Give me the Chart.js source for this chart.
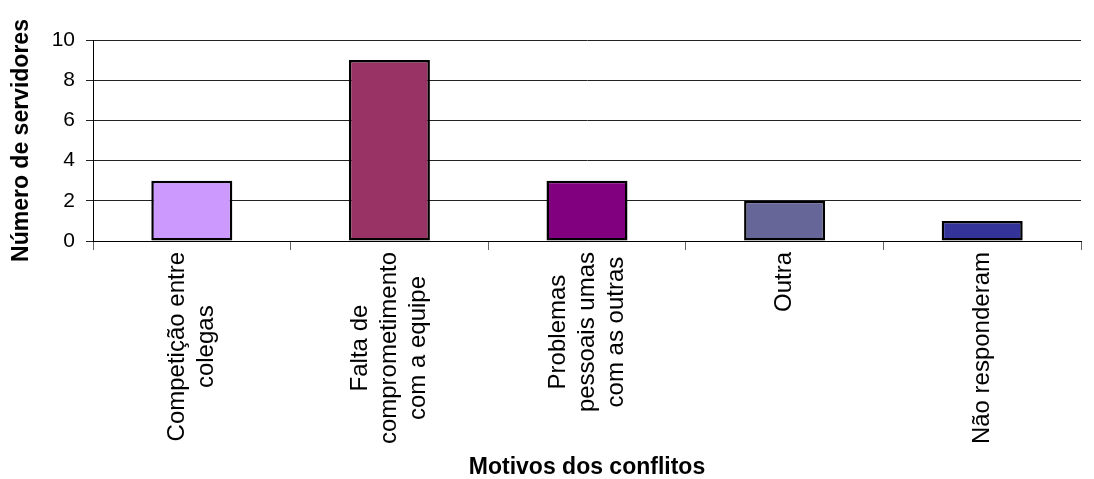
<!DOCTYPE html>
<html lang="pt">
<head>
<meta charset="utf-8">
<title>Motivos dos conflitos</title>
<script src="https://cdn.jsdelivr.net/npm/chart.js@4.4.1/dist/chart.umd.min.js"></script>
<style>
    html, body { margin: 0; padding: 0; background: #fff; }
    #graficoMotivos { display: block; }
</style>
</head>
<body>
<canvas id="graficoMotivos" width="1094" height="479"></canvas>
<script>
// Dados do gráfico
var categorias = [
    ['Competição entre', 'colegas'],
    ['Falta de', 'comprometimento', 'com a equipe'],
    ['Problemas', 'pessoais umas', 'com as outras'],
    ['Outra'],
    ['Não responderam']
];
var valores = [3, 9, 3, 2, 1];
var coresBarras = ['#CC99FF', '#993366', '#800080', '#666699', '#333399'];

var fonte = 'Liberation Sans, Arial, Helvetica, sans-serif';

// Plugin para desenhar os rótulos do eixo x rotacionados e centralizados
var rotulosCentralizados = {
    id: 'rotulosCentralizados',
    afterDraw: function (chart) {
        var ctx = chart.ctx;
        var eixoX = chart.scales.x;
        var alturaLinha = 29;
        ctx.save();
        ctx.font = '24px ' + fonte;
        ctx.fillStyle = '#000';
        ctx.textAlign = 'center';
        ctx.textBaseline = 'middle';
        for (var i = 0; i < categorias.length; i++) {
            var linhas = categorias[i];
            var maior = 0;
            linhas.forEach(function (l) {
                maior = Math.max(maior, ctx.measureText(l).width);
            });
            var cx = eixoX.getPixelForTick(i);
            var cy = eixoX.top + 11 + maior / 2;
            ctx.save();
            ctx.translate(cx, cy);
            ctx.rotate(-Math.PI / 2);
            for (var j = 0; j < linhas.length; j++) {
                ctx.fillText(linhas[j], 0, (j - (linhas.length - 1) / 2) * alturaLinha);
            }
            ctx.restore();
        }
        ctx.restore();
    }
};

function crearGraficoMotivos(canvasId) {
    var ctx = document.getElementById(canvasId);
    if (!ctx) {
        console.error('Canvas não encontrado: ' + canvasId);
        return;
    }
    new Chart(ctx, {
        type: 'bar',
        data: {
            labels: categorias,
            datasets: [{
                data: valores,
                backgroundColor: coresBarras,
                borderColor: '#000',
                borderWidth: 2.5,
                borderSkipped: false,
                barPercentage: 0.41,
                categoryPercentage: 1
            }]
        },
        options: {
            responsive: false,
            animation: false,
            layout: { padding: { top: 40, right: 13, bottom: 0, left: 0 } },
            plugins: {
                legend: { display: false },
                tooltip: { enabled: false }
            },
            scales: {
                x: {
                    offset: true,
                    grid: {
                        offset: true,
                        drawOnChartArea: false,
                        drawTicks: true,
                        tickLength: 9,
                        color: '#666'
                    },
                    border: { display: true, color: '#000', width: 1 },
                    ticks: { display: false },
                    title: {
                        display: true,
                        text: 'Motivos dos conflitos',
                        color: '#000',
                        font: { family: fonte, size: 23, weight: 'bold', lineHeight: 1 },
                        padding: { top: 0, bottom: 0 }
                    },
                    afterFit: function (scale) { scale.height = 238; }
                },
                y: {
                    min: 0,
                    max: 10,
                    grid: {
                        color: '#222',
                        tickLength: 7
                    },
                    border: { display: true, color: '#000', width: 1 },
                    ticks: {
                        stepSize: 2,
                        padding: 11,
                        color: '#000',
                        font: { family: fonte, size: 21 }
                    },
                    title: {
                        display: true,
                        text: 'Número de servidores',
                        color: '#000',
                        font: { family: fonte, size: 23, weight: 'bold', lineHeight: 1 },
                        padding: { top: 10, bottom: 0 }
                    },
                    afterFit: function (scale) { scale.width = 93; }
                }
            }
        },
        plugins: [rotulosCentralizados]
    });
}

document.addEventListener('DOMContentLoaded', function () {
    crearGraficoMotivos('graficoMotivos');
});
</script>
</body>
</html>
